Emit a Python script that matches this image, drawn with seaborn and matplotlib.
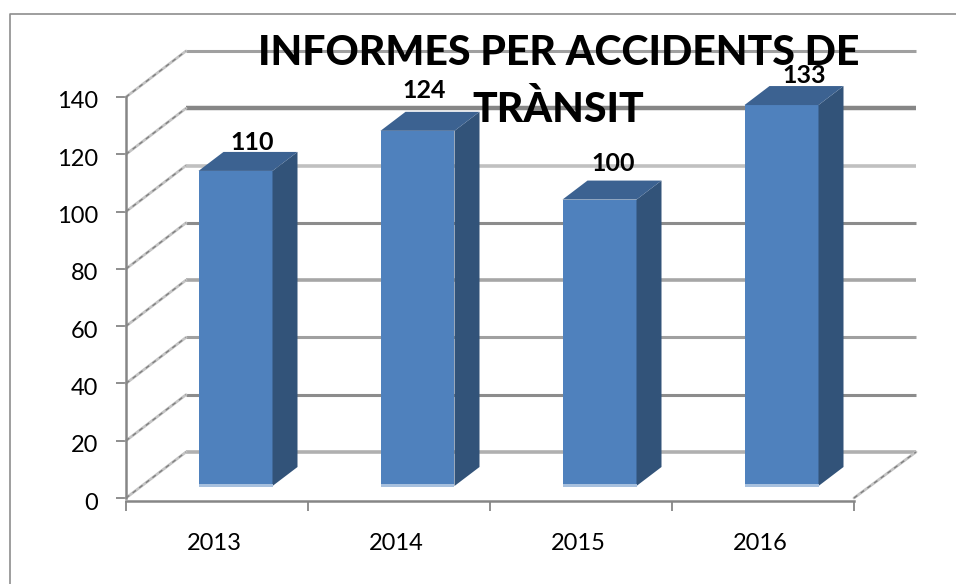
import matplotlib
matplotlib.use("Agg")
import matplotlib.pyplot as plt
import pandas as pd
import seaborn as sns
from matplotlib.lines import Line2D
from matplotlib.patches import Polygon, Rectangle
from matplotlib.transforms import Affine2D

years = ["2013", "2014", "2015", "2016"]
values = [110, 124, 100, 133]
y_ticks = [0, 20, 40, 60, 80, 100, 120, 140]
title_lines = ["INFORMES PER ACCIDENTS DE", "TRÀNSIT"]
grid_colors = ["#b0b0b0", "#8c8c8c", "#a0a0a0", "#a6a6a6", "#8c8c8c", "#c0c0c0", "#868686", "#a0a0a0"]
grid_widths = [2.6, 2.2, 2.2, 2.6, 2.2, 2.6, 3.2, 2.2]
label_shift_px = [(17, 28), (7, 40), (14, 36), (23, 30)]

W, H = 956, 584
L, R, T, B = 126, 854, 97, 498
px_x = (R - L) / len(years)
px_y = (B - T) / 140

sns.set_theme(style="white")
plt.rcParams["font.family"] = ["Lato", "DejaVu Sans"]
fig = plt.figure(figsize=(W / 100, H / 100), dpi=100, facecolor="white")
# chart frame: only its left and top edges fall inside the picture
fig.add_artist(Line2D([9.5 / W, 9.5 / W, 1], [0, 1 - 14 / H, 1 - 14 / H], transform=fig.transFigure,
                      color="#8e8e8e", lw=1.2))
ax = fig.add_axes([L / W, 1 - B / H, (R - L) / W, (B - T) / H])
df = pd.DataFrame({"year": years, "value": values})
BAR_W = 74 / px_x
sns.barplot(data=df, x="year", y="value", ax=ax, color="#4f81bd", saturation=1, width=BAR_W, zorder=3)
ax.set_xlim(-0.5, len(years) - 0.5)
ax.set_ylim(0, 140)
ax.set_xlabel("")
ax.set_ylabel("")


def dx(p):
    return p / px_x


def dy(p):
    return p / px_y


# back wall, left wall and floor projected from the value axis
BX, BY = 60, 46
x0, x1 = -0.5, len(years) - 0.5


def diagonal(xa, xb, ya, yb):
    ax.plot([xa, xb], [ya, yb], color="#c4c4c4", lw=2.0, zorder=1, clip_on=False)
    ax.plot([xa, xb], [ya, yb], color="#808080", lw=1.0, ls=(0, (3, 3)), zorder=1, clip_on=False)


for v, c, w in zip(y_ticks, grid_colors, grid_widths):
    ax.plot([x0 + dx(BX), x1 + dx(BX + 2)], [v + dy(BY), v + dy(BY)], color=c, lw=w, zorder=1,
            clip_on=False, solid_capstyle="butt")
    diagonal(x0, x0 + dx(BX), v, v + dy(BY))
diagonal(x1, x1 + dx(BX + 2), 0, dy(BY))

# bars: front face shifted into the chart depth, with side and top faces
FX, FY = 18.5, 12
SX, SY = 25, 19
bars = list(ax.patches)
for patch, val, (lx, ly) in zip(bars, values, label_shift_px):
    xl = patch.get_x() + dx(FX)
    xr = xl + patch.get_width()
    y0 = dy(FY)
    y1 = val + dy(FY)
    patch.set_x(xl)
    patch.set_y(y0)
    patch.set_clip_on(False)
    patch.set_edgecolor("none")
    ax.add_patch(Polygon([(xr, y0), (xr + dx(SX), y0 + dy(SY)), (xr + dx(SX), y1 + dy(SY)), (xr, y1)],
                         closed=True, fc="#325379", ec="none", zorder=3, clip_on=False))
    ax.add_patch(Polygon([(xl, y1), (xr, y1), (xr + dx(SX), y1 + dy(SY)), (xl + dx(SX), y1 + dy(SY))],
                         closed=True, fc="#3c6291", ec="none", zorder=3, clip_on=False))
    ax.add_patch(Rectangle((xl, y0 - dy(1)), xr - xl, dy(3), fc="#a7c0de", ec="none", zorder=4, clip_on=False))
    ax.text((xl + xr) / 2 + dx(lx), val + dy(FY + ly), str(val), ha="center", va="center",
            fontsize=18, fontweight="bold", color="black", zorder=6, clip_on=False)

# axes
sns.despine(ax=ax, top=True, right=True)
for s in ("left", "bottom"):
    ax.spines[s].set_color("#868686")
    ax.spines[s].set_linewidth(1.8)
ax.spines["bottom"].set_position(("outward", 2))
ax.set_yticks(y_ticks)
ax.set_yticklabels([str(v) for v in y_ticks], fontsize=17, color="black")
ax.set_xticks(range(len(years)))
ax.set_xticklabels(years, fontsize=17, color="black")
ax.set_xticks([i - 0.5 for i in range(len(years) + 1)], minor=True)
ax.tick_params(axis="x", which="major", length=0, pad=23)
ax.tick_params(axis="x", which="minor", length=7, width=1.3, color="#868686", direction="out", bottom=True)
ax.tick_params(axis="y", length=7, width=1.3, color="#868686", direction="out", pad=13, left=True)
for lab in ax.get_xticklabels():
    lab.set_transform(lab.get_transform() + Affine2D().translate(-2.5, 0))
for lab in ax.get_yticklabels():
    lab.set_transform(lab.get_transform() + Affine2D().translate(0, -3))

# title overlaps the plot, as in the reference
for line, py in zip(title_lines, (53, 110)):
    fig.text(558.5 / W, 1 - py / H, line, ha="center", va="center", fontsize=29.5, fontweight="black",
             color="black", zorder=10)

fig.savefig("out.png", dpi=100, facecolor="white")
